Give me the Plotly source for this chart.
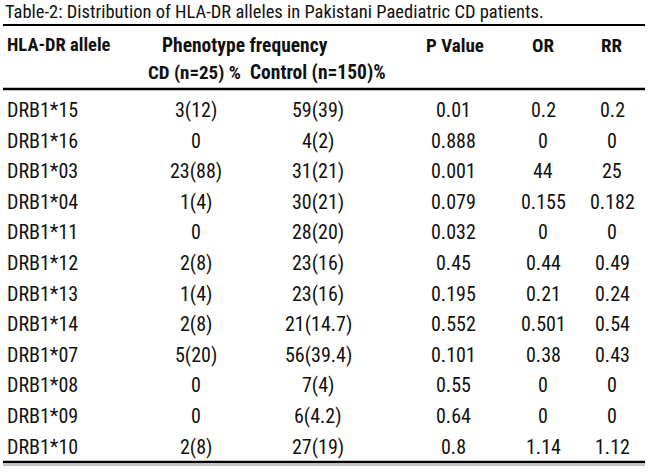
import plotly.graph_objects as go

title_text = "Table-2: Distribution of HLA-DR alleles in Pakistani Paediatric CD patients."
header_main = ["HLA-DR allele", "Phenotype frequency", "P Value", "OR", "RR"]
header_sub = ["CD (n=25) %", "Control (n=150)%"]

alleles = ["DRB1*15", "DRB1*16", "DRB1*03", "DRB1*04", "DRB1*11", "DRB1*12",
           "DRB1*13", "DRB1*14", "DRB1*07", "DRB1*08", "DRB1*09", "DRB1*10"]
cd_freq = ["3(12)", "0", "23(88)", "1(4)", "0", "2(8)", "1(4)", "2(8)", "5(20)", "0", "0", "2(8)"]
control_freq = ["59(39)", "4(2)", "31(21)", "30(21)", "28(20)", "23(16)", "23(16)",
                "21(14.7)", "56(39.4)", "7(4)", "6(4.2)", "27(19)"]
p_value = ["0.01", "0.888", "0.001", "0.079", "0.032", "0.45", "0.195", "0.552",
           "0.101", "0.55", "0.64", "0.8"]
odds_ratio = ["0.2", "0", "44", "0.155", "0", "0.44", "0.21", "0.501", "0.38", "0", "0", "1.14"]
rel_risk = ["0.2", "0", "25", "0.182", "0", "0.49", "0.24", "0.54", "0.43", "0", "0", "1.12"]

# layout constants (pixels)
W, H = 650, 475
FONT = "Roboto Condensed, Liberation Sans Narrow, sans-serif"
TXT = "#111111"
row0, dy = 110, 30.6
col_x = {"allele": 5, "cd": 196, "ctrl": 318, "p": 453, "or": 543, "rr": 612}

fig = go.Figure()

def add_text(x, y, s, size=20, bold=False, anchor="center"):
    fig.add_annotation(x=x, y=y, xref="x", yref="y", text=("<b>%s</b>" % s) if bold else s,
                       showarrow=False, xanchor=anchor, yanchor="middle",
                       font=dict(family=FONT, size=size, color=TXT))

# title
add_text(3, 12, title_text, size=18.5, anchor="left")
# headers
add_text(5, 45, header_main[0], size=18.5, bold=True, anchor="left")
add_text(245, 45, header_main[1], size=19.5, bold=True)
add_text(455, 45, header_main[2], size=19, bold=True)
add_text(543, 45, header_main[3], size=19, bold=True)
add_text(612, 45, header_main[4], size=19, bold=True)
add_text(194, 72, header_sub[0], size=19, bold=True)
add_text(318, 72, header_sub[1], size=19.5, bold=True)

# body
for i in range(len(alleles)):
    y = row0 + i * dy
    add_text(col_x["allele"], y, alleles[i], anchor="left")
    add_text(col_x["cd"], y, cd_freq[i])
    add_text(col_x["ctrl"], y, control_freq[i])
    add_text(col_x["p"], y, p_value[i])
    add_text(col_x["or"], y, odds_ratio[i])
    add_text(col_x["rr"], y, rel_risk[i])

# rules
fig.add_shape(type="line", x0=3, x1=645, y0=25, y1=25, xref="x", yref="y",
              line=dict(color="black", width=2))
fig.add_shape(type="line", x0=3, x1=645, y0=89, y1=89, xref="x", yref="y",
              line=dict(color="black", width=2.5))
fig.add_shape(type="line", x0=3, x1=645, y0=462, y1=462, xref="x", yref="y",
              line=dict(color="black", width=2.5))
fig.add_shape(type="line", x0=3, x1=645, y0=465, y1=465, xref="x", yref="y",
              line=dict(color="#888888", width=1))

fig.update_layout(
    width=W, height=H, margin=dict(l=0, r=0, t=0, b=0),
    paper_bgcolor="white", plot_bgcolor="white", showlegend=False,
    xaxis=dict(range=[0, W], visible=False, fixedrange=True),
    yaxis=dict(range=[H, 0], visible=False, fixedrange=True),
)
fig.write_html("out.html", config={"displayModeBar": False},
               post_script="document.body.style.margin='0';")
